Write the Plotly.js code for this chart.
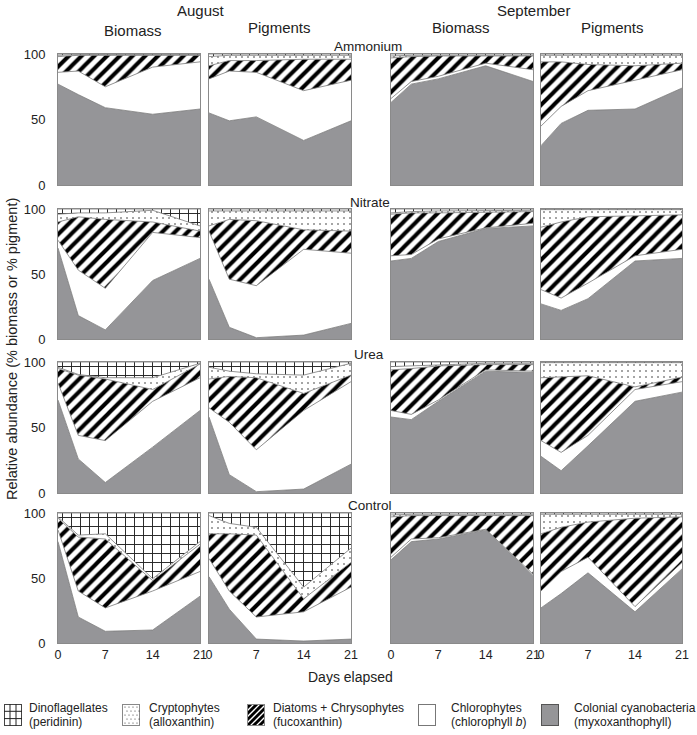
<!DOCTYPE html>
<html><head><meta charset="utf-8">
<script src="https://cdn.plot.ly/plotly-3.0.1.min.js"></script>
<style>html,body{margin:0;padding:0;background:#fff}</style>
</head><body><div id="chart" style="width:697px;height:735px"></div>
<script>
// ---- data (percent; stack order bottom->top: cyano, chloro, diatoms, crypto, dino) ----
const days = [0, 3, 7, 14, 21];
const months = ["August", "September"];
const measures = ["Biomass", "Pigments"];
const treatments = ["Ammonium", "Nitrate", "Urea", "Control"];
const xTicks = [0, 7, 14, 21];
const yTicks = [0, 50, 100];
const groupNames = ["Colonial cyanobacteria", "Chlorophytes", "Diatoms + Chrysophytes", "Cryptophytes", "Dinoflagellates"];
const groupPigments = ["(myxoxanthophyll)", "(chlorophyll <i>b</i>)", "(fucoxanthin)", "(alloxanthin)", "(peridinin)"];

const augBiomassAmmonium = [[77,69,59,54,58],[9,18,16,36,36],[12,12,24,9,5],[1,0.5,0.5,0.5,0.5],[1,0.5,0.5,0.5,0.5]];
const augPigmentsAmmonium = [[55,49,52,34,49],[26,38,34,38,31],[10,8,9,24,16],[7,4,4,3,3],[2,1,1,1,1]];
const sepBiomassAmmonium = [[63,77,81,91,79],[3,2,2,2,9],[31,19,15.5,5.5,10.5],[1.5,1,0.5,0.5,0.5],[1.5,1,1,1,1]];
const sepPigmentsAmmonium = [[30,47,57,58,74],[15,13,15,22,14],[49,34,20,11,5],[5,5,7,8,6],[1,1,1,1,1]];

const augBiomassNitrate = [[70,18,7,45,62],[6,35,32,37,16],[14,41,53,8,5],[6,3,5,9,4],[4,3,3,1,13]];
const augPigmentsNitrate = [[46,9,1,3,12],[37,37,40,66,54],[4,46,50,15,17],[11.5,6.5,7.5,14.5,15.5],[1.5,1.5,1.5,1.5,1.5]];
const sepBiomassNitrate = [[60,62,75,85,87],[4,3,2,0.5,2],[32,32,20,12,9],[1,1,1.5,1.5,1],[3,2,1.5,1,1]];
const sepPigmentsNitrate = [[27,22,31,60,62],[11,9.5,12,4,7],[48,58.5,51,31,26.5],[13.5,9.5,5.5,4.5,4],[0.5,0.5,0.5,0.5,0.5]];

const augBiomassUrea = [[71,26,8,35,63],[13,18,32,35,25],[11,46,47,9,10.5],[1,0.5,1,9,0.5],[4,9.5,12,12,1]];
const augPigmentsUrea = [[58,14,1,3,22],[7,40,32,60,63],[22,35,55,13,5],[9,4,3,14,9],[4,7,9,10,1]];
const sepBiomassUrea = [[58,56,70,93,92],[5,4,1,1,1],[31,35,26,4,5],[2.5,2,1,1,1],[3.5,3,2,1,1]];
const sepPigmentsUrea = [[28,17,36,70,77],[12,14,8,9,8],[48,57.5,45.5,2,3.5],[11.5,11,10,18.5,11],[0.5,0.5,0.5,0.5,0.5]];

const augBiomassControl = [[78,20,9,10,36],[9,20,18,30,19],[9,41.5,53,8,21],[1,1.5,4,1.5,2],[3,17,16,50.5,22]];
const augPigmentsControl = [[51,26,3,1.5,3],[14,14,17,22.5,40],[19,44,63,10,19],[14,8,6,9,11],[2,8,11,57,27]];
const sepBiomassControl = [[64,78,80,87,52],[2,2,1,0.5,1],[31,18,17,10.5,45],[1.5,1,1,1,1],[1.5,1,1,1,1]];
const sepPigmentsControl = [[27,38,54,24,57],[13,17,12,4,5],[44,34,27,68,35],[15,10,6,3,2],[1,1,1,1,1]];

const panels = [
  [augBiomassAmmonium, augPigmentsAmmonium, sepBiomassAmmonium, sepPigmentsAmmonium],
  [augBiomassNitrate, augPigmentsNitrate, sepBiomassNitrate, sepPigmentsNitrate],
  [augBiomassUrea, augPigmentsUrea, sepBiomassUrea, sepPigmentsUrea],
  [augBiomassControl, augPigmentsControl, sepBiomassControl, sepPigmentsControl]
];

// ---- styling / geometry ----
const W = 697, H = 735;
const FONT = "Liberation Sans, Arial, Helvetica, sans-serif";
const colPx = [[58,200],[209,351],[391,533],[541,682]];
const rowPx = [[54,185],[209,339],[362,493],[513,643]];
const GRAY = '#959598';
const layerStyle = [
  {fillcolor: GRAY},
  {fillcolor: '#ffffff'},
  {fillcolor: '#ffffff', fillpattern: {shape: '/', size: 9, solidity: 0.45, fgcolor: '#000000', bgcolor: '#ffffff'}},
  {fillcolor: '#ffffff', fillpattern: {shape: '.', size: 6, solidity: 0.06, fgcolor: '#333333', bgcolor: '#ffffff'}},
  {fillcolor: '#ffffff', fillpattern: {shape: '+', size: 9, solidity: 0.2, fgcolor: '#222222', bgcolor: '#ffffff'}}
];
const px2x = p => p / W;
const px2y = p => 1 - p / H;

const traces = [];
const layout = {
  width: W, height: H,
  margin: {l: 0, r: 0, t: 0, b: 0},
  paper_bgcolor: '#ffffff', plot_bgcolor: '#ffffff',
  showlegend: false,
  font: {family: FONT, color: '#222'},
  annotations: [], images: []
};

for (let r = 0; r < 4; r++) {
  for (let c = 0; c < 4; c++) {
    const idx = r * 4 + c + 1;
    const s = idx === 1 ? '' : String(idx);
    const data = panels[r][c];
    for (let k = 0; k < 5; k++) {
      traces.push(Object.assign({
        x: days, y: data[k], type: 'scatter', mode: 'lines',
        stackgroup: 'g' + idx,
        line: {color: '#7a7a7a', width: 0.8},
        hoverinfo: 'skip', showlegend: false,
        xaxis: 'x' + s, yaxis: 'y' + s
      }, layerStyle[k]));
    }
    layout['xaxis' + s] = {
      domain: [px2x(colPx[c][0]), px2x(colPx[c][1])], range: [0, 21], anchor: 'y' + s,
      showline: true, mirror: true, linecolor: '#8a8a8a', linewidth: 1,
      ticks: '', showgrid: false, zeroline: false, fixedrange: true,
      tickmode: 'array', tickvals: xTicks, showticklabels: r === 3,
      tickfont: {family: FONT, size: 12.5, color: '#222'}
    };
    layout['yaxis' + s] = {
      domain: [px2y(rowPx[r][1]), px2y(rowPx[r][0])], range: [0, 100], anchor: 'x' + s,
      showline: true, mirror: true, linecolor: '#8a8a8a', linewidth: 1,
      ticks: '', showgrid: false, zeroline: false, fixedrange: true,
      tickmode: 'array', tickvals: yTicks, showticklabels: c === 0,
      ticklabelstandoff: 9,
      tickfont: {family: FONT, size: 13, color: '#222'}
    };
  }
}

function ann(text, xp, yp, size, opts) {
  layout.annotations.push(Object.assign({
    text: text, x: px2x(xp), y: px2y(yp), xref: 'paper', yref: 'paper',
    showarrow: false, xanchor: 'center', yanchor: 'middle',
    font: {family: FONT, size: size, color: '#222'}
  }, opts || {}));
}

// column headers
ann(months[0], 201, 10, 15);
ann(months[1], 533, 10, 15);
ann(measures[0], 133, 30, 15);
ann(measures[1], 279, 28, 15);
ann(measures[0], 461, 28, 15);
ann(measures[1], 612, 28, 15);
// row labels
ann(treatments[0], 368, 46, 13.5);
ann(treatments[1], 370, 202, 13.5);
ann(treatments[2], 369, 354, 13.5);
ann(treatments[3], 370, 505, 13.5);
// axis titles
ann('Relative abundance (% biomass or % pigment)', 12, 349, 14.5, {textangle: -90});
ann('Days elapsed', 350, 677, 14);

// legend (left to right: dino, crypto, diatoms, chloro, cyano)
const legendOrder = [4, 3, 2, 1, 0];
const swatchX = [4, 122, 247, 418, 541];
const textX = [27, 147, 271, 449, 572];
function swatchSvg(k) {
  let inner = '';
  if (k === 0) inner = `<rect x="0.5" y="0.5" width="17" height="21" fill="${GRAY}" stroke="#555"/>`;
  else if (k === 1) inner = `<rect x="0.5" y="0.5" width="17" height="21" fill="#fff" stroke="#777"/>`;
  else if (k === 2) {
    let p = '';
    for (let x = -24; x < 24; x += 6) p += `M${x} 22L${x + 22} 0`;
    inner = `<rect x="0" y="0" width="18" height="22" fill="#fff"/><path d="${p}" stroke="#000" stroke-width="3"/><rect x="0.5" y="0.5" width="17" height="21" fill="none" stroke="#888"/>`;
  } else if (k === 3) {
    let d = '';
    for (let y = 3; y < 22; y += 4) for (let x = (y % 8 === 3 ? 3 : 5); x < 18; x += 4) d += `<circle cx="${x}" cy="${y}" r="0.6" fill="#333"/>`;
    inner = `<rect x="0.5" y="0.5" width="17" height="21" fill="#fff" stroke="#888"/>${d}`;
  } else {
    inner = `<rect x="0.5" y="0.5" width="17" height="21" fill="#fff" stroke="#444"/><path d="M6 0V22M12 0V22M0 7.3H18M0 14.6H18" stroke="#222" stroke-width="1"/>`;
  }
  return 'data:image/svg+xml;charset=utf-8,' + encodeURIComponent(
    `<svg xmlns="http://www.w3.org/2000/svg" width="18" height="22" viewBox="0 0 18 22">${inner}</svg>`);
}
legendOrder.forEach((k, i) => {
  layout.images.push({
    source: swatchSvg(k), xref: 'paper', yref: 'paper',
    x: px2x(swatchX[i]), y: px2y(704), sizex: 18 / W, sizey: 22 / H,
    xanchor: 'left', yanchor: 'top', sizing: 'stretch', layer: 'above'
  });
  ann(groupNames[k], textX[i], 708, 12, {xanchor: 'left'});
  ann(groupPigments[k], textX[i], 722, 12, {xanchor: 'left'});
});

Plotly.newPlot('chart', traces, layout, {displayModeBar: false, staticPlot: true});
</script>
</body></html>
